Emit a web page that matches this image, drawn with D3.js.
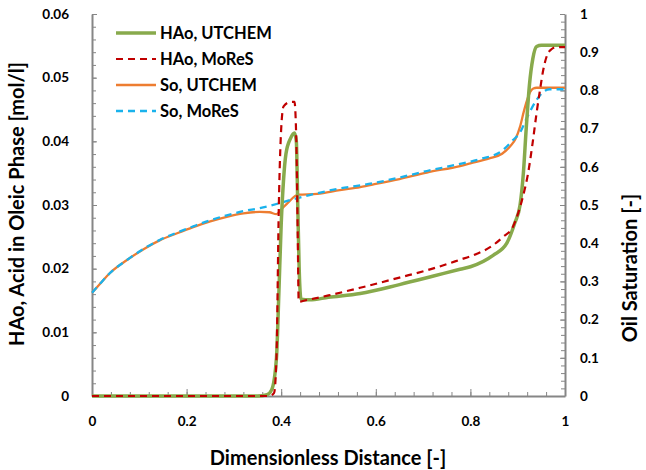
<!DOCTYPE html>
<html>
<head>
<meta charset="utf-8">
<script src="https://cdn.jsdelivr.net/npm/d3@7"></script>
<style>
  body { margin: 0; background: #fff; }
  text { font-family: Lato, "Open Sans", sans-serif; font-weight: bold; fill: #000; }
</style>
</head>
<body>
<script>
// HAo (left axis, mol/l)
const hUtX = [0, 0.35, 0.37, 0.38, 0.39, 0.395, 0.40, 0.405, 0.41, 0.42, 0.428, 0.432, 0.435, 0.438, 0.442, 0.46, 0.5, 0.567, 0.65, 0.72, 0.778, 0.80, 0.848, 0.877, 0.894, 0.905, 0.912, 0.918, 0.925, 0.932, 0.94, 0.95, 1];
const hUtY = [0, 0, 0.0002, 0.001, 0.006, 0.016, 0.027, 0.034, 0.038, 0.0405, 0.0413, 0.040, 0.030, 0.020, 0.0152, 0.0151, 0.0155, 0.0161, 0.0175, 0.0188, 0.0199, 0.0203, 0.0221, 0.024, 0.0272, 0.030, 0.035, 0.042, 0.049, 0.053, 0.0549, 0.0551, 0.0551];
const hMoX = [0, 0.375, 0.385, 0.39, 0.395, 0.40, 0.405, 0.42, 0.428, 0.432, 0.435, 0.437, 0.45, 0.5, 0.567, 0.65, 0.72, 0.778, 0.806, 0.85, 0.869, 0.89, 0.90, 0.911, 0.922, 0.932, 0.94, 0.947, 0.954, 0.962, 0.972, 0.98, 1];
const hMoY = [0, 0, 0.0005, 0.006, 0.030, 0.042, 0.0455, 0.0462, 0.0462, 0.040, 0.025, 0.0148, 0.015, 0.0158, 0.0170, 0.0186, 0.0200, 0.0214, 0.0221, 0.0238, 0.025, 0.0266, 0.0285, 0.0313, 0.035, 0.040, 0.0445, 0.048, 0.0512, 0.0535, 0.0545, 0.0548, 0.0548];
// So (right axis)
const sUtX = [0, 0.02, 0.038, 0.074, 0.11, 0.144, 0.18, 0.214, 0.25, 0.285, 0.32, 0.355, 0.375, 0.39, 0.40, 0.415, 0.436, 0.476, 0.524, 0.567, 0.60, 0.65, 0.708, 0.778, 0.80, 0.84, 0.867, 0.885, 0.895, 0.905, 0.913, 0.92, 0.926, 0.933, 0.94, 1];
const sUtY = [0.27, 0.298, 0.322, 0.356, 0.385, 0.408, 0.426, 0.442, 0.457, 0.469, 0.478, 0.482, 0.481, 0.476, 0.488, 0.507, 0.527, 0.529, 0.539, 0.547, 0.555, 0.568, 0.585, 0.602, 0.609, 0.622, 0.634, 0.655, 0.672, 0.705, 0.745, 0.775, 0.795, 0.805, 0.807, 0.807];
const sMoX = [0, 0.02, 0.038, 0.074, 0.11, 0.144, 0.18, 0.214, 0.25, 0.285, 0.32, 0.355, 0.397, 0.425, 0.46, 0.518, 0.594, 0.65, 0.708, 0.772, 0.82, 0.867, 0.89, 0.905, 0.92, 0.94, 0.954, 0.968, 1];
const sMoY = [0.27, 0.298, 0.322, 0.356, 0.386, 0.409, 0.428, 0.444, 0.46, 0.473, 0.484, 0.492, 0.505, 0.515, 0.526, 0.542, 0.557, 0.572, 0.589, 0.606, 0.62, 0.642, 0.67, 0.69, 0.73, 0.775, 0.796, 0.803, 0.803];

const legendNames = ["HAo, UTCHEM", "HAo, MoReS", "So, UTCHEM", "So, MoReS"];
const xTicks = [0, 0.2, 0.4, 0.6, 0.8, 1];
const yTicks = [0, 0.01, 0.02, 0.03, 0.04, 0.05, 0.06];
const y2Ticks = [0, 0.1, 0.2, 0.3, 0.4, 0.5, 0.6, 0.7, 0.8, 0.9, 1];

const W = 646, H = 470;
const padL = 92, padR = 565, padT = 14, padB = 396;
const axisColor = "#868686";

const svg = d3.select("body").append("svg").attr("width", W).attr("height", H);

const x = d3.scaleLinear().domain([0, 1]).range([padL, padR]);
const y = d3.scaleLinear().domain([0, 0.06]).range([padB, padT]);
const y2 = d3.scaleLinear().domain([0, 1]).range([padB, padT]);

function styleAxis(g) {
  g.select(".domain").attr("stroke", axisColor).attr("stroke-width", 2);
  g.selectAll(".tick line").attr("stroke", axisColor).attr("stroke-width", 1);
  g.selectAll("text").attr("font-size", 13.5).attr("font-family", "Lato, sans-serif").attr("font-weight", "900").attr("fill", "#000");
}

// minor ticks
svg.append("g").attr("transform", `translate(0,${padB})`)
  .call(d3.axisBottom(x).tickValues(d3.range(0, 1.0001, 0.04)).tickSizeInner(-4).tickSizeOuter(0).tickFormat(""))
  .call(g => { g.select(".domain").remove(); g.selectAll("line").attr("stroke", axisColor); });
svg.append("g").attr("transform", `translate(${padL},0)`)
  .call(d3.axisLeft(y).tickValues(d3.range(0, 0.0601, 0.002)).tickSizeInner(-4).tickSizeOuter(0).tickFormat(""))
  .call(g => { g.select(".domain").remove(); g.selectAll("line").attr("stroke", axisColor); });
svg.append("g").attr("transform", `translate(${padR},0)`)
  .call(d3.axisRight(y2).tickValues(d3.range(0, 1.0001, 0.02)).tickSizeInner(-4).tickSizeOuter(0).tickFormat(""))
  .call(g => { g.select(".domain").remove(); g.selectAll("line").attr("stroke", axisColor); });

// major axes
svg.append("g").attr("transform", `translate(0,${padB})`)
  .call(d3.axisBottom(x).tickValues(xTicks).tickSizeInner(-7).tickSizeOuter(0).tickPadding(20).tickFormat(d3.format("")))
  .call(styleAxis);
svg.append("g").attr("transform", `translate(${padL},0)`)
  .call(d3.axisLeft(y).tickValues(yTicks).tickSizeInner(-5).tickSizeOuter(0).tickPadding(23).tickFormat(d => d === 0 ? "0" : d.toFixed(2)))
  .call(styleAxis);
svg.append("g").attr("transform", `translate(${padR},0)`)
  .call(d3.axisRight(y2).tickValues(y2Ticks).tickSizeInner(-5).tickSizeOuter(0).tickPadding(15).tickFormat(d3.format("")))
  .call(styleAxis);

// axis titles
svg.append("text").attr("x", 328).attr("y", 465).attr("text-anchor", "middle").attr("font-size", 20)
  .attr("font-weight", "900").text("Dimensionless Distance [-]");
svg.append("text").attr("transform", "translate(24,204) rotate(-90)").attr("text-anchor", "middle").attr("font-size", 20)
  .attr("font-weight", "900").text("HAo, Acid in Oleic Phase [mol/l]");
svg.append("text").attr("transform", "translate(637,268) rotate(-90)").attr("text-anchor", "middle").attr("font-size", 20)
  .attr("font-weight", "900").text("Oil Saturation [-]");

const series = [
  { xs: hUtX, ys: hUtY, sc: y, color: "#88aa4c", w: 3.5, dash: null },
  { xs: hMoX, ys: hMoY, sc: y, color: "#c00000", w: 2.2, dash: "7,5" },
  { xs: sUtX, ys: sUtY, sc: y2, color: "#ed7d31", w: 2.3, dash: null },
  { xs: sMoX, ys: sMoY, sc: y2, color: "#1ab2ec", w: 2.3, dash: "7,5" }
];

const plot = svg.append("g");
// So first, then HAo on top
[2, 3, 0, 1].forEach(i => {
  const s = series[i];
  const line = d3.line().x(d => x(d[0])).y(d => s.sc(d[1])).curve(d3.curveMonotoneX);
  plot.append("path")
    .datum(s.xs.map((v, k) => [v, s.ys[k]]))
    .attr("fill", "none").attr("stroke", s.color).attr("stroke-width", s.w)
    .attr("stroke-dasharray", s.dash)
    .attr("d", line);
});

// legend
const leg = svg.append("g");
legendNames.forEach((name, i) => {
  const s = series[i];
  const ly = 33 + i * 26;
  leg.append("line").attr("x1", 116).attr("x2", 156).attr("y1", ly).attr("y2", ly)
    .attr("stroke", s.color).attr("stroke-width", s.w).attr("stroke-dasharray", s.dash);
  leg.append("text").attr("x", 160).attr("y", ly + 6).attr("font-size", 16.5).attr("font-weight", "900").text(name);
});
</script>
</body>
</html>
